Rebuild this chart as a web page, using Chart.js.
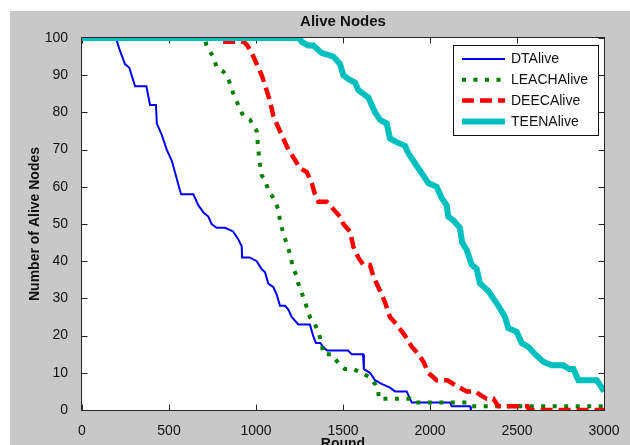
<!DOCTYPE html>
<html>
<head>
<meta charset="utf-8">
<script src="https://cdn.jsdelivr.net/npm/chart.js@4.4.1/dist/chart.umd.min.js"></script>
<style>
  html, body { margin: 0; padding: 0; background: #fff; }
</style>
</head>
<body>
<canvas id="c" width="630" height="445"></canvas>
<script>
/* Alive nodes per round for four clustering protocols.
   Values as [round, alive] pairs. */
const dtAlive = [
  [0,100],[195,100],[215,97],[247,93],[272,92],[305,87],[370,87],[391,82],[425,82],[430,77],
  [458,74],[487,70],[516,67],[534,64],[563,59],[570,58],[640,58],[669,55],[700,53],[726,52],
  [745,50],[774,49],[822,49],[868,48],[897,46],[918,44],[920,41],[964,41],[1004,40],[1030,38],
  [1052,37],[1071,34],[1100,33],[1119,31],[1138,28],[1167,28],[1186,27],[1205,25],[1243,23],
  [1310,23],[1328,20],[1345,18],[1370,18],[1385,17],[1408,16],[1529,16],[1550,15],[1615,15],
  [1620,11],[1655,10],[1684,8],[1722,7],[1770,6],[1799,5],[1866,5],[1885,3],[1895,2],[2115,2],
  [2125,1],[2230,1],[2235,0]
];
const leachAlive = [
  [0,100],[705,100],[716,98],[740,96],[755,95],[774,92],[812,91],[841,89],[870,85],[898,82],
  [927,79],[966,78],[1004,75],[1013,70],[1023,66],[1033,63],[1052,62],[1071,59],[1100,57],
  [1128,54],[1138,51],[1148,49],[1167,46],[1195,42],[1214,38],[1234,36],[1243,34],[1282,29],
  [1310,25],[1339,23],[1358,21],[1377,18],[1387,15],[1435,15],[1483,12],[1511,11],[1559,11],
  [1607,10],[1646,9],[1684,7],[1703,5],[1705,3],[1885,3],[1905,2],[2210,2],[2230,1],[3000,1]
];
const deecAlive = [
  [0,100],[800,100],[805,99],[930,99],[950,98],[975,96],[1004,93],[1033,90],[1061,86],[1080,83],
  [1100,79],[1128,76],[1157,73],[1186,70],[1214,68],[1253,65],[1291,64],[1320,61],[1339,58],
  [1358,56],[1406,56],[1444,54],[1483,52],[1502,50],[1540,48],[1559,44],[1588,41],[1617,39],
  [1655,39],[1674,36],[1713,32],[1741,29],[1770,25],[1808,23],[1856,20],[1895,17],[1933,15],
  [1962,13],[1990,10],[2038,8],[2100,8],[2134,7],[2172,6],[2211,5],[2260,5],[2290,4],[2326,3],
  [2364,3],[2393,1],[2560,1],[2570,0],[3000,0]
];
const teenAlive = [
  [0,100],[1250,100],[1262,99],[1300,98],[1329,98],[1377,96],[1444,95],[1483,93],[1502,90],
  [1530,89],[1569,88],[1588,86],[1617,85],[1646,84],[1665,82],[1684,80],[1713,78],[1751,77],
  [1770,73],[1808,72],[1856,71],[1876,69],[1904,67],[1933,65],[1962,63],[1990,61],[2038,60],
  [2067,57],[2096,55],[2105,52],[2134,51],[2172,49],[2185,45],[2211,43],[2240,39],[2268,38],
  [2287,34],[2335,32],[2364,30],[2393,28],[2431,25],[2450,22],[2498,21],[2527,18],[2565,17],
  [2604,15],[2651,13],[2699,12],[2766,12],[2800,11],[2824,11],[2853,8],[2958,8],[2987,6],[3000,5]
];
const seriesNames = ['DTAlive', 'LEACHAlive', 'DEECAlive', 'TEENAlive'];
const xTicks = [0, 500, 1000, 1500, 2000, 2500, 3000];
const yTicks = [0, 10, 20, 30, 40, 50, 60, 70, 80, 90, 100];

const FONT = '"Liberation Sans", Arial, sans-serif';
const INK = '#111111';
const toXY = arr => arr.map(p => ({ x: p[0], y: p[1] }));

/* MATLAB-like frame: grey figure, white axes, box with inward ticks on all sides,
   legend box in the upper right. */
const frame = {
  id: 'frame',
  beforeDraw(chart) {
    const { ctx, chartArea: a } = chart;
    ctx.save();
    ctx.fillStyle = '#ffffff';
    ctx.fillRect(0, 0, chart.width, chart.height);
    ctx.fillStyle = '#c8c8c8';
    ctx.fillRect(10, 11, chart.width - 10, chart.height - 11);
    ctx.fillStyle = '#ffffff';
    ctx.fillRect(a.left, a.top, a.right - a.left, a.bottom - a.top);
    ctx.restore();
  },
  beforeDatasetsDraw(chart) {
    const { ctx, chartArea: a, scales } = chart;
    const L = a.left - 0.5, R = a.right + 0.5, T = a.top - 0.5, B = a.bottom + 0.5;
    ctx.save();
    ctx.strokeStyle = '#262626';
    ctx.lineWidth = 1;
    ctx.strokeRect(L, T, R - L, B - T);
    ctx.beginPath();
    xTicks.forEach(v => {
      const px = Math.round(scales.x.getPixelForValue(v)) + 0.5;
      ctx.moveTo(px, B); ctx.lineTo(px, B - 6);
      ctx.moveTo(px, T); ctx.lineTo(px, T + 6);
    });
    yTicks.forEach(v => {
      const py = Math.round(scales.y.getPixelForValue(v)) + 0.5;
      ctx.moveTo(L, py); ctx.lineTo(L + 6, py);
      ctx.moveTo(R, py); ctx.lineTo(R - 6, py);
    });
    ctx.stroke();
    ctx.restore();
  },
  afterDatasetsDraw(chart) {
    const { ctx, chartArea: a } = chart;
    const w = 145, h = 90;
    const x0 = a.right - 6 - w, y0 = a.top + 7;
    ctx.save();
    ctx.fillStyle = '#ffffff';
    ctx.fillRect(x0, y0, w, h);
    ctx.strokeStyle = '#111';
    ctx.lineWidth = 1;
    ctx.strokeRect(Math.round(x0) + 0.5, Math.round(y0) + 0.5, w, h);
    ctx.font = '14px ' + FONT;
    ctx.textBaseline = 'middle';
    ctx.textAlign = 'left';
    chart.data.datasets.forEach((ds, i) => {
      const y = y0 + 14 + i * 20.8;
      ctx.beginPath();
      ctx.strokeStyle = ds.borderColor;
      ctx.lineWidth = ds.borderWidth;
      ctx.setLineDash(ds.borderDash || []);
      ctx.moveTo(x0 + 9, y);
      ctx.lineTo(x0 + 52, y);
      ctx.stroke();
      ctx.setLineDash([]);
      ctx.fillStyle = INK;
      ctx.fillText(ds.label, x0 + 58, y + 0.5);
    });
    ctx.restore();
  }
};

const lineStyle = (color, width, dash) => ({
  borderColor: color,
  backgroundColor: color,
  borderWidth: width,
  borderDash: dash,
  pointRadius: 0,
  tension: 0,
  fill: false
});

new Chart(document.getElementById('c'), {
  type: 'line',
  data: {
    datasets: [
      Object.assign({ label: seriesNames[0], data: toXY(dtAlive), order: 3 }, lineStyle('#0000ff', 2, [])),
      Object.assign({ label: seriesNames[1], data: toXY(leachAlive), order: 2 }, lineStyle('#008000', 4, [4, 7.5])),
      Object.assign({ label: seriesNames[2], data: toXY(deecAlive), order: 1 }, lineStyle('#ff0000', 4.5, [12, 6])),
      Object.assign({ label: seriesNames[3], data: toXY(teenAlive), order: 0 }, lineStyle('#00bfbf', 6, []))
    ]
  },
  options: {
    responsive: false,
    animation: false,
    layout: { padding: { left: 0, right: 26, top: 0, bottom: 0 } },
    plugins: {
      legend: { display: false },
      tooltip: { enabled: false },
      title: {
        display: true,
        text: 'Alive Nodes',
        fullSize: false,
        color: INK,
        font: { family: FONT, size: 15, weight: 'bold' },
        padding: { top: 12.5, bottom: 7.5 }
      }
    },
    scales: {
      x: {
        type: 'linear',
        min: 0, max: 3000,
        afterFit: s => { s.height = 35; },
        afterBuildTicks: s => { s.ticks = xTicks.map(v => ({ value: v })); },
        grid: { display: false },
        border: { display: false },
        ticks: {
          color: INK, padding: 5, autoSkip: false, maxRotation: 0,
          font: { family: FONT, size: 14 },
          callback: v => String(v)
        },
        title: {
          display: true, text: 'Round', color: INK,
          font: { family: FONT, size: 14, weight: 'bold' },
          padding: { top: 0, bottom: -8 }
        }
      },
      y: {
        type: 'linear',
        min: 0, max: 100,
        afterFit: s => { s.width = 82; },
        afterBuildTicks: s => { s.ticks = yTicks.map(v => ({ value: v })); },
        grid: { display: false },
        border: { display: false },
        ticks: { color: INK, padding: 6, font: { family: FONT, size: 14 }, callback: v => String(v) },
        title: {
          display: true, text: 'Number of Alive Nodes', color: INK,
          font: { family: FONT, size: 14, weight: 'bold' },
          padding: { top: 26.6, bottom: 0 }
        }
      }
    }
  },
  plugins: [frame]
});
</script>
</body>
</html>
